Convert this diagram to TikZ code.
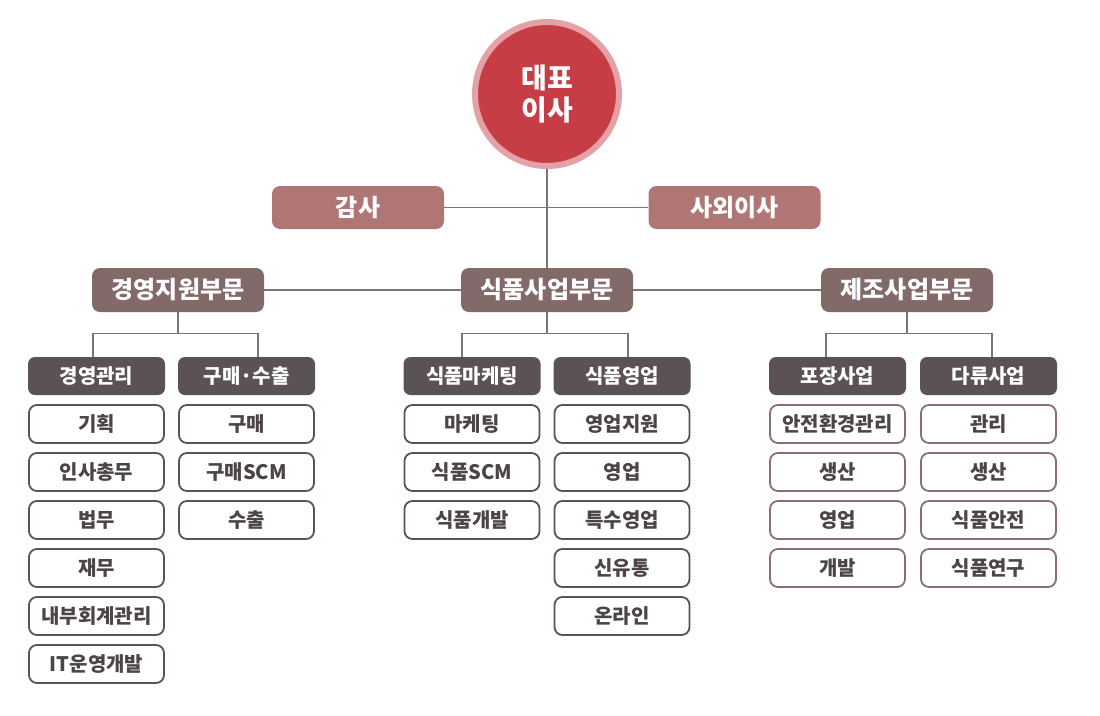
\documentclass[tikz,border=0pt]{standalone}
\usepackage{fontspec}
\setmainfont{Noto Sans CJK KR}
\usetikzlibrary{positioning}

\definecolor{ceored}{HTML}{C73D46}
\definecolor{ceoring}{HTML}{E4A2A7}
\definecolor{auditc}{HTML}{B07676}
\definecolor{divc}{HTML}{826A69}
\definecolor{teamc}{HTML}{5B5253}
\definecolor{leafl}{HTML}{5B5253}
\definecolor{leafr}{HTML}{8B6D70}
\definecolor{textc}{HTML}{4B4546}
\definecolor{linec}{HTML}{767676}

\tikzset{
  head/.style={rounded corners=8pt, inner sep=0pt, text=white, minimum width=172pt, minimum height=44pt,
    font=\bfseries\fontsize{24}{26}\selectfont},
  audit/.style={head, fill=auditc, minimum height=43pt},
  division/.style={head, fill=divc},
  team/.style={rounded corners=7pt, inner sep=0pt, fill=teamc, text=white, minimum width=137pt, minimum height=38pt,
    font=\bfseries\fontsize{20}{22}\selectfont},
  leaf/.style={rounded corners=8pt, inner sep=0pt, draw=leafl, line width=1.8pt, fill=white, text=textc,
    minimum width=135pt, minimum height=38pt, font=\bfseries\fontsize{20}{22}\selectfont},
  leafm/.style={leaf, draw=leafr},
  link/.style={draw=linec, line width=1.2pt}
}

\begin{document}
\begin{tikzpicture}[x=1pt,y=-1pt]
  \useasboundingbox (0,0) rectangle (1100,715);

  \node[circle, fill=ceored, draw=ceoring, line width=6pt, minimum size=144pt, inner sep=0pt, text=white,
    align=center, font=\bfseries\fontsize{28}{32}\selectfont] (ceo) at (547,94) {대표\\이사};

  \node[audit] (aud) at (358,207.5) {감사};
  \node[audit] (outdir) at (734.5,207.5) {사외이사};

  \node[division] (mgmt) at (178,290) {경영지원부문};
  \node[division] (food) at (547,290) {식품사업부문};
  \node[division] (manu) at (907,290) {제조사업부문};

  \draw[link] (ceo.south) -- (food.north);
  \draw[link] (aud) -- (outdir);
  \draw[link] (mgmt) -- (food) -- (manu);

  % teams
  \node[team] (admin) at (96.5,376) {경영관리};
  \node[team] (purch) at (246.5,376) {구매·수출};
  \node[team] (mkt) at (472,376) {식품마케팅};
  \node[team] (sales) at (622,376) {식품영업};
  \node[team] (pack) at (837.5,376) {포장사업};
  \node[team] (tea) at (988.5,376) {다류사업};

  \foreach \dv/\l/\r in {mgmt/85/80,food/85/81,manu/81/85}{
    \draw[link] (\dv.south) -- ++(0,21) coordinate (\dv-j);
    \draw[link] (\dv-j) ++(-\l,0) -- ++(0,24) (\dv-j) ++(-\l,0) -- ++(\l+\r,0) -- ++(0,24);
  }

  % leaves
  \foreach \t [count=\i] in {기획,인사총무,법무,재무,내부회계관리,IT운영개발}
    \node[leaf] (admin-\i) at (96.5,{376+48*\i}) {\t};
  \foreach \t [count=\i] in {구매,구매SCM,수출}
    \node[leaf] (purch-\i) at (246.5,{376+48*\i}) {\t};
  \foreach \t [count=\i] in {마케팅,식품SCM,식품개발}
    \node[leaf] (mkt-\i) at (472,{376+48*\i}) {\t};
  \foreach \t [count=\i] in {영업지원,영업,특수영업,신유통,온라인}
    \node[leaf] (sales-\i) at (622,{376+48*\i}) {\t};
  \foreach \t [count=\i] in {안전환경관리,생산,영업,개발}
    \node[leafm] (pack-\i) at (837.5,{376+48*\i}) {\t};
  \foreach \t [count=\i] in {관리,생산,식품안전,식품연구}
    \node[leafm] (tea-\i) at (988.5,{376+48*\i}) {\t};
\end{tikzpicture}
\end{document}
